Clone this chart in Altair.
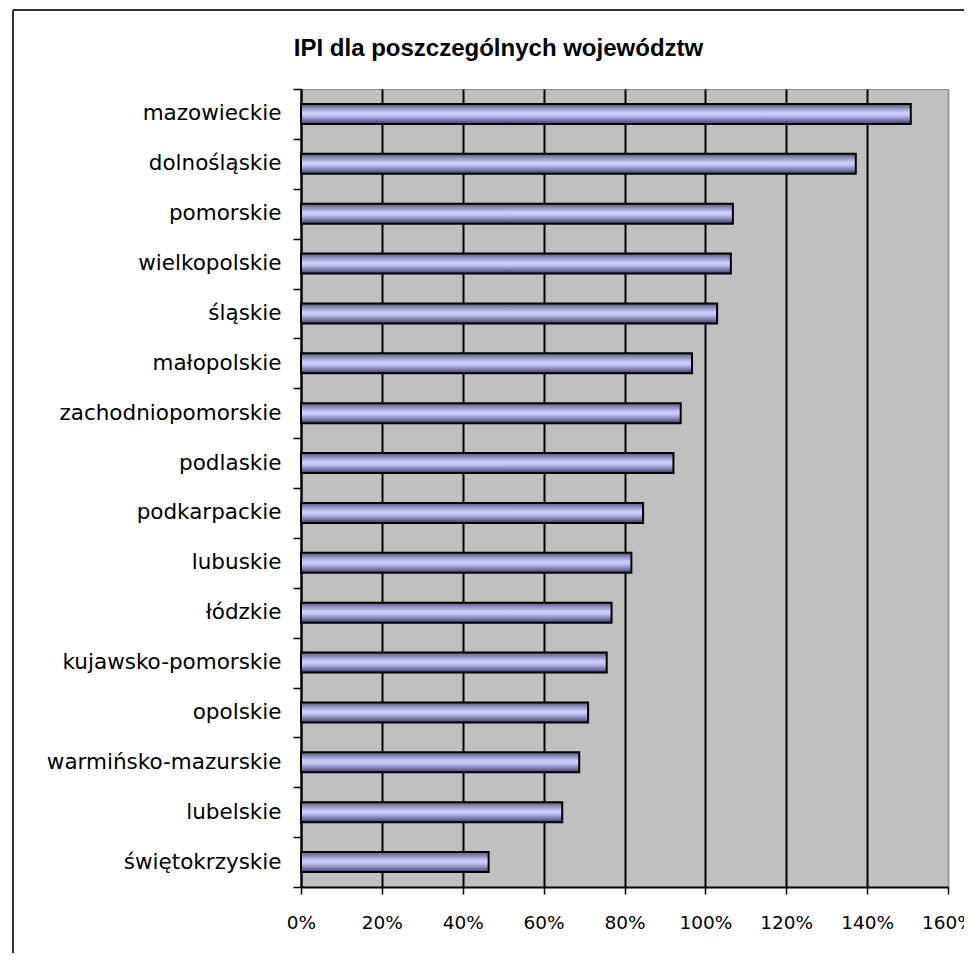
import altair as alt
import pandas as pd

regions = [
    "mazowieckie", "dolnośląskie", "pomorskie", "wielkopolskie", "śląskie",
    "małopolskie", "zachodniopomorskie", "podlaskie", "podkarpackie", "lubuskie",
    "łódzkie", "kujawsko-pomorskie", "opolskie", "warmińsko-mazurskie",
    "lubelskie", "świętokrzyskie",
]
ipi = [
    1.508, 1.372, 1.068, 1.063, 1.029,
    0.967, 0.939, 0.921, 0.846, 0.817,
    0.768, 0.756, 0.710, 0.688,
    0.646, 0.464,
]
x_ticks = [0, 0.2, 0.4, 0.6, 0.8, 1.0, 1.2, 1.4, 1.6]

df = pd.DataFrame({"region": regions, "ipi": ipi})

gradient = {
    "gradient": "linear",
    "x1": 0, "y1": 0, "x2": 0, "y2": 1,
    "stops": [
        {"offset": 0.0, "color": "#55557a"},
        {"offset": 0.18, "color": "#8a8ab8"},
        {"offset": 0.45, "color": "#d0d0ff"},
        {"offset": 0.58, "color": "#c0c0f4"},
        {"offset": 0.85, "color": "#6e6e9a"},
        {"offset": 1.0, "color": "#3a3a55"},
    ],
}

bars = alt.Chart(df).mark_bar(
    size=20, fill=gradient, stroke="black", strokeWidth=2
).encode(
    x=alt.X(
        "ipi:Q",
        scale=alt.Scale(domain=[0, 1.6], nice=False, zero=True),
        axis=alt.Axis(
            values=x_ticks, format=".0%", title=None,
            grid=True,
            gridColor={"condition": {"test": "datum.value >= 1.59", "value": "#999999"}, "value": "black"},
            gridWidth=2,
            domainColor="black", domainWidth=2,
            tickColor="black", tickSize=7, tickWidth=1.5,
            labelFont="DejaVu Sans", labelFontSize=18.5, labelColor="black",
            labelPadding=19, labelFlush=False,
        ),
    ),
    y=alt.Y(
        "region:N", sort=regions,
        scale=alt.Scale(paddingInner=0, paddingOuter=0),
        axis=alt.Axis(
            title=None, grid=False, tickBand="extent",
            domainColor="black", domainWidth=2,
            tickColor="black", tickSize=8, tickWidth=1.5,
            labelFont="DejaVu Sans", labelFontSize=21.5, labelColor="black",
            labelPadding=12, labelLimit=400,
        ),
    ),
)

frame_df = pd.DataFrame({"k": [0]})
left_border = alt.Chart(frame_df).mark_rule(color="#333333", strokeWidth=2).encode(
    x=alt.value(-288), y=alt.value(-79), y2=alt.value(960)
)
top_border = alt.Chart(frame_df).mark_rule(color="#333333", strokeWidth=2).encode(
    x=alt.value(-288), x2=alt.value(700), y=alt.value(-79)
)

chart = alt.layer(bars, left_border, top_border).properties(
    width=647,
    height=798,
    padding={"left": 293, "top": 81, "right": 16, "bottom": 66},
    autosize=alt.AutoSizeParams(type="none"),
    background="white",
    title=alt.TitleParams(
        text="IPI dla poszczególnych województw",
        font="Liberation Sans", fontSize=24, fontWeight="bold", color="black",
        anchor="middle", dx=-126, offset=30, dy=101, baseline="alphabetic",
    ),
).configure_view(
    fill="#c0c0c0", stroke="#8a8a8a", strokeWidth=1
)

chart.save("out.html", embed_options={"renderer": "svg", "actions": False})
